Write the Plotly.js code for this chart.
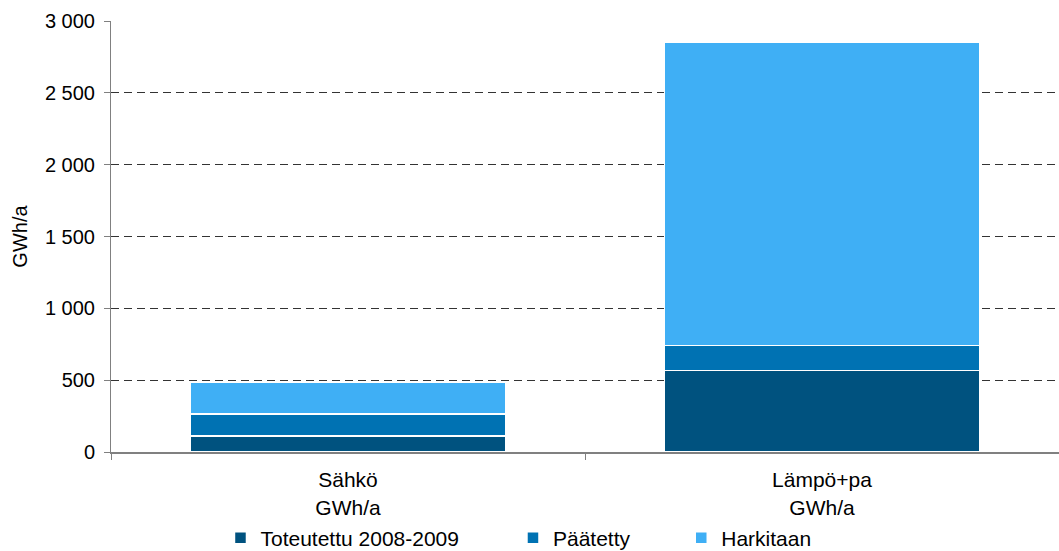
<!DOCTYPE html>
<html>
<head>
<meta charset="utf-8">
<script src="https://cdn.plot.ly/plotly-3.0.1.min.js"></script>
<style>
  html, body { margin: 0; padding: 0; background: #ffffff; }
  #chart { width: 1059px; height: 551px; }
</style>
</head>
<body>
<div id="chart"></div>
<script>
// Energy categories (x axis)
const categories = ["Sähkö<br>GWh/a", "Lämpö+pa<br>GWh/a"];

// Stacked series, GWh/a
const toteutettu = [110, 567];   // Toteutettu 2008-2009
const paatetty   = [155, 176];   // Päätetty
const harkitaan  = [220, 2108];  // Harkitaan

const seriesNames = ["Toteutettu 2008-2009", "Päätetty", "Harkitaan"];
const seriesColors = ["#00527F", "#0072B3", "#3FAFF5"];
const seriesValues = [toteutettu, paatetty, harkitaan];

// one legend box per series, laid out in a row under the axis
const legendIds = ["legend", "legend2", "legend3"];
const legendX = [0.2082, 0.4844, 0.6433];

const font = "Liberation Sans, Arial, sans-serif";
const textFont = { family: font, size: 20, color: "#000000" };
const bigFont = { family: font, size: 21, color: "#000000" };

const traces = seriesValues.map((vals, i) => ({
  type: "bar",
  x: categories,
  y: vals,
  name: seriesNames[i],
  legend: legendIds[i],
  marker: { color: seriesColors[i], line: { color: "#ffffff", width: 1.5 } },
  hoverinfo: "skip"
}));

const layout = {
  width: 1059,
  height: 551,
  barmode: "stack",
  bargap: 0.336,
  separators: ", ",
  paper_bgcolor: "#ffffff",
  plot_bgcolor: "#ffffff",
  font: textFont,
  margin: { l: 111, r: 0, t: 21, b: 99 },
  showlegend: true,
  xaxis: {
    type: "category",
    automargin: false,
    showline: true,
    linecolor: "#808080",
    linewidth: 2,
    ticks: "outside",
    tickson: "boundaries",
    ticklen: 6,
    tickcolor: "#808080",
    ticklabelstandoff: 8,
    showgrid: false,
    tickfont: bigFont,
    fixedrange: true
  },
  yaxis: {
    range: [0, 3000],
    dtick: 500,
    tick0: 0,
    automargin: false,
    separatethousands: true,
    showline: true,
    linecolor: "#808080",
    linewidth: 1,
    ticks: "outside",
    ticklen: 6,
    tickcolor: "#808080",
    ticklabelstandoff: 5,
    showgrid: true,
    gridcolor: "#333333",
    gridwidth: 1,
    griddash: "8px,5px",
    zeroline: false,
    tickfont: textFont,
    title: { text: "GWh/a", font: textFont, standoff: 11 },
    fixedrange: true
  }
};

legendIds.forEach((id, i) => {
  layout[id] = {
    orientation: "h",
    xref: "container",
    yref: "container",
    x: legendX[i],
    xanchor: "left",
    y: 0.0236,
    yanchor: "middle",
    font: bigFont,
    bgcolor: "rgba(0,0,0,0)",
    itemclick: false,
    itemdoubleclick: false
  };
});

Plotly.newPlot("chart", traces, layout, { displayModeBar: false, staticPlot: true });
</script>
</body>
</html>
